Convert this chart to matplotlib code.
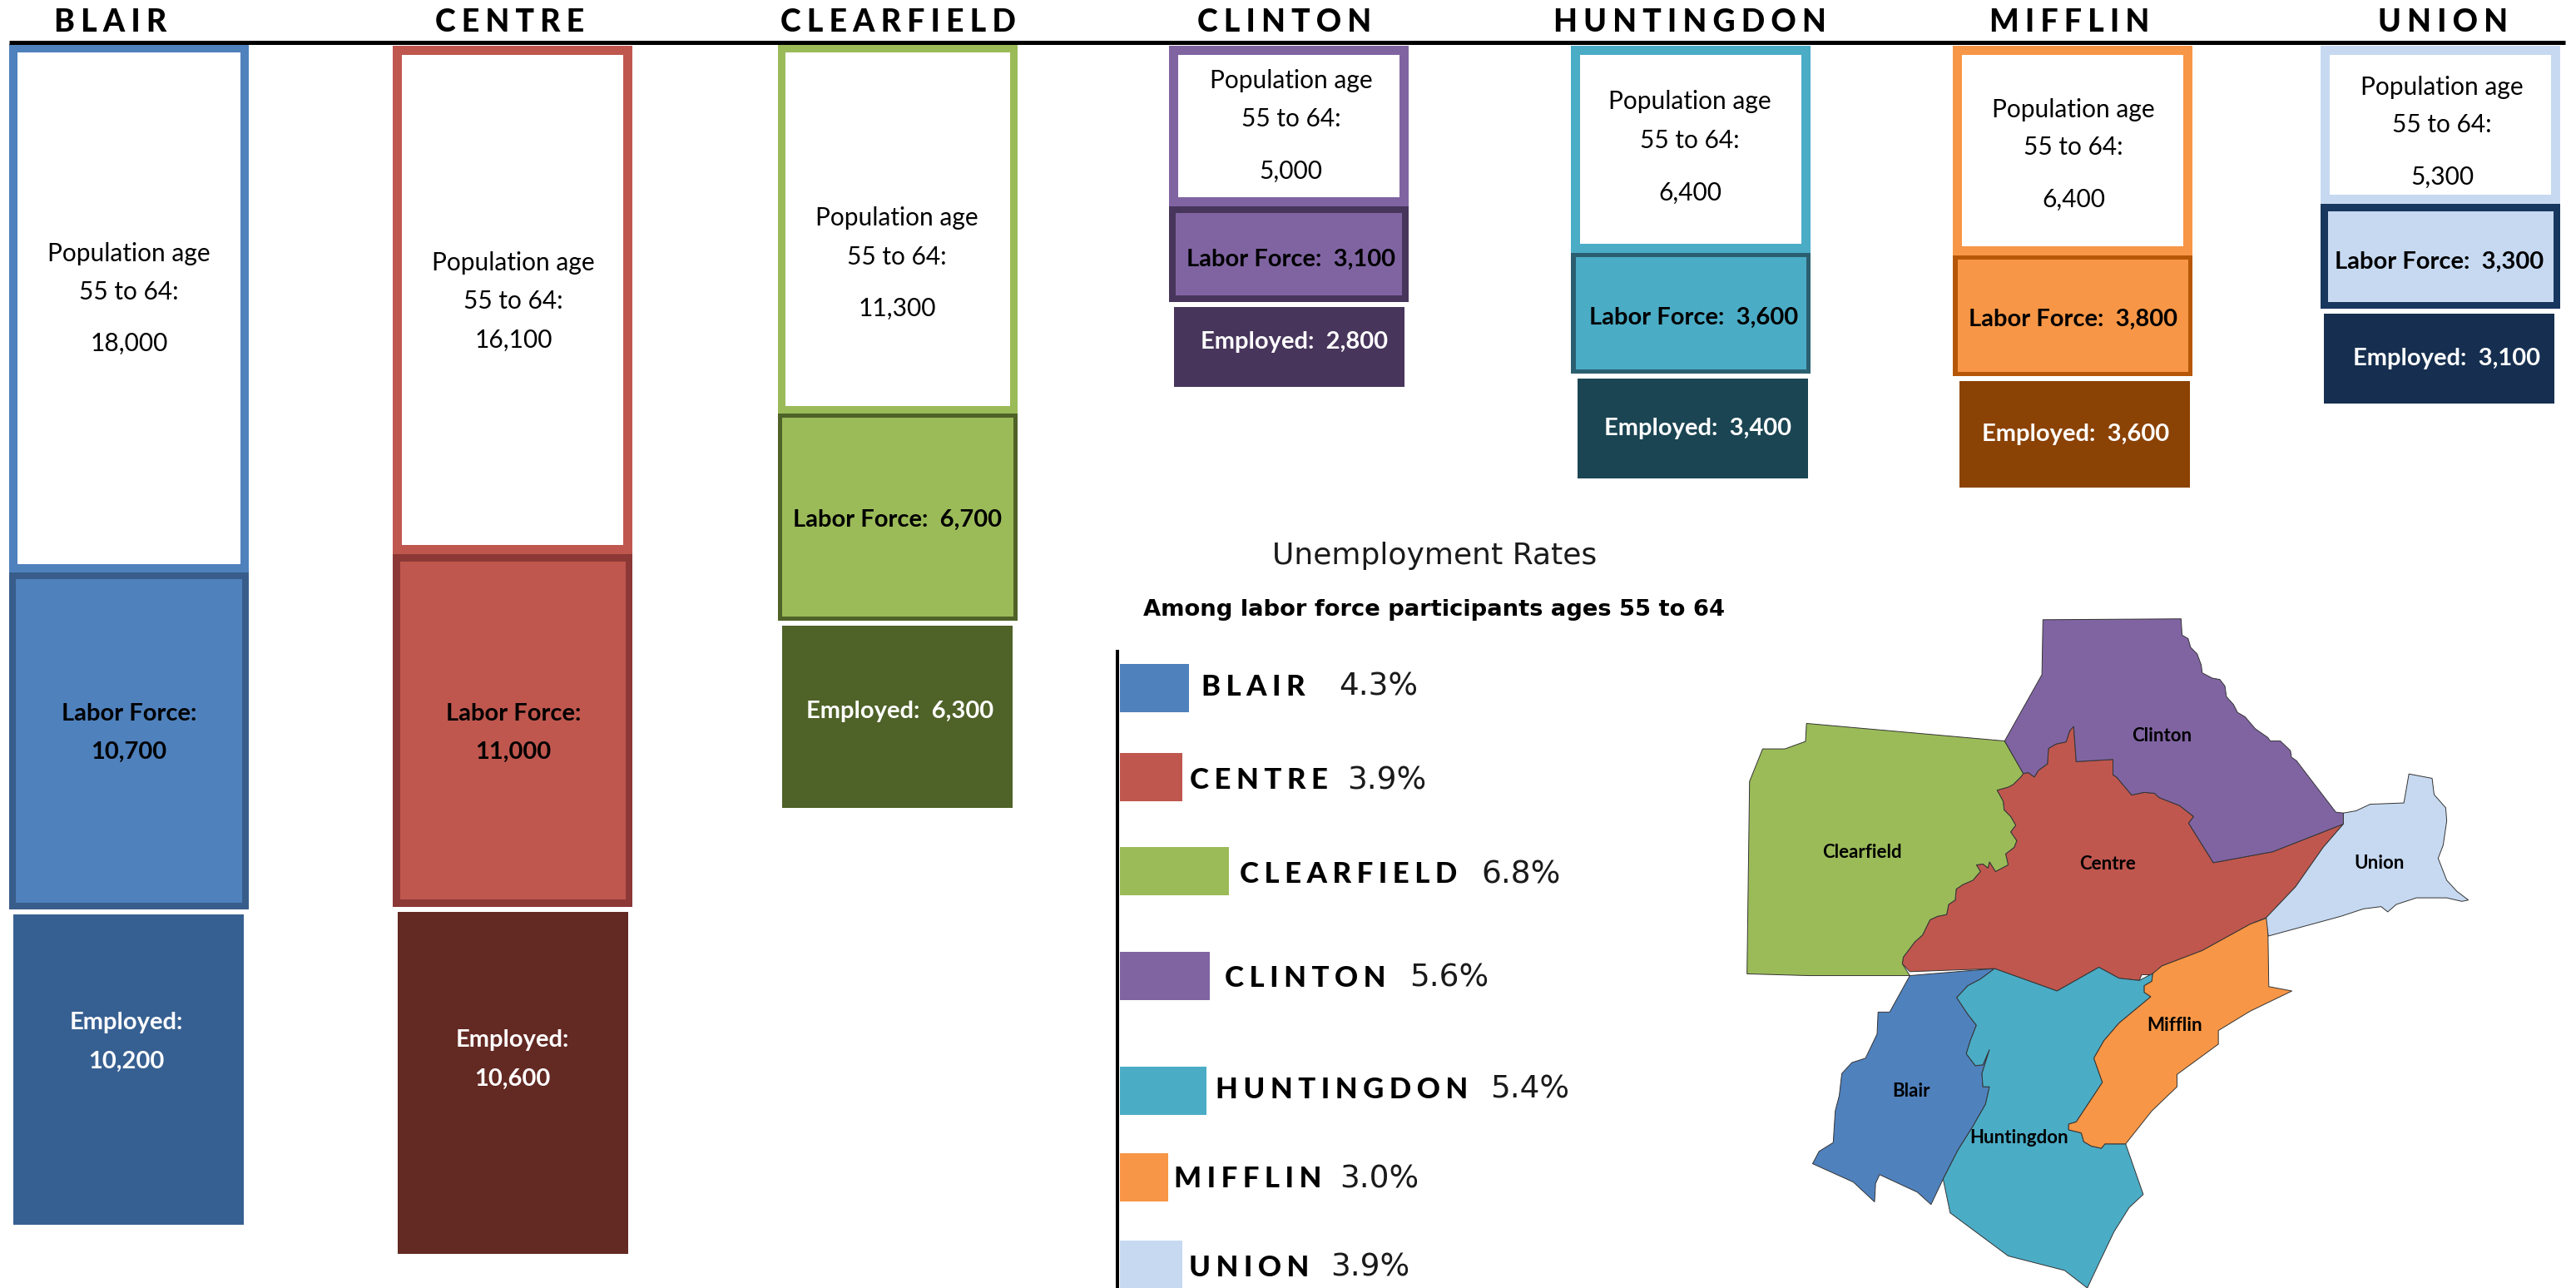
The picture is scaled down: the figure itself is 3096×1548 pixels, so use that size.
import matplotlib
matplotlib.use("Agg")
import matplotlib.pyplot as plt
from matplotlib.patches import Polygon

plt.rcParams['font.family'] = ['Lato', 'DejaVu Sans']

# values
counties = ["Blair", "Centre", "Clearfield", "Clinton", "Huntingdon", "Mifflin", "Union"]
population = [18000, 16100, 11300, 5000, 6400, 6400, 5300]
labor_force = [10700, 11000, 6700, 3100, 3600, 3800, 3300]
employed = [10200, 10600, 6300, 2800, 3400, 3600, 3100]
unemp_rate = [4.3, 3.9, 6.8, 5.6, 5.4, 3.0, 3.9]

# colours
main_colors = ["#4F81BD", "#BF574E", "#9BBB59", "#8064A2", "#4BACC6", "#F79646", "#C6D9F1"]
edge_colors = ["#385D8A", "#8C3836", "#4F6228", "#47355B", "#2B5F70", "#B65708", "#17375E"]
emp_colors = ["#376092", "#632923", "#4F6228", "#47355B", "#1B4553", "#8B4205", "#162F50"]

# layout of the columns, in pixels. the boxes in the original are not all on one scale
col_left = [11, 472, 935, 1405, 1888, 2347, 2789]
col_top = [53, 55, 54, 55, 55, 55, 55]
col_width = 288
emp_left = [16, 477.5, 940, 1411, 1895.5, 2355, 2793]
emp_width = 277
pop_scale = [.03528, .03798, .0392, .0385, .0389, .0393, .03585]
labor_scale = [.0378, .0385, .03716, .03726, .0403, .0383, .0382]
emp_scale = [.03657, .03877, .0348, .0343, .0353, .03544, .0348]
pop_border = [10, 11, 9, 11, 11, 11, 11]
labor_border = [8, 8.5, 5, 8, 5.5, 5.5, 8.5]

title_x = [132.5, 613, 1079, 1544, 2031, 2487, 2936]
pop_text_x = [155, 617, 1078, 1551.5, 2031, 2492, 2935]
pop_text_y = [[305, 351, 413], [316, 362, 409], [262, 309, 371], [97, 143, 206],
              [122.5, 169, 232], [132, 177, 240], [105, 150, 213]]
labor_text_x = [155, 617, 1078.5, 1551.5, 2036, 2491.5, 2932]
labor_text_y = [[858, 904], [858, 904], [625], [312], [382], [384], [315]]
emp_text_x = [152, 616, 1082, 1555.5, 2041, 2495, 2940]
emp_text_y = [[1229, 1275.5], [1250, 1297], [855], [411], [515], [522], [431.5]]

# unemployment bars
rate_y = [827, 934, 1047, 1173, 1311, 1415, 1520]
rate_px = 19.3
rate_name_x = [1444, 1430, 1490, 1472, 1461, 1411, 1429]
rate_pct_x = [1609, 1619, 1780, 1694, 1791, 1610, 1599]
rate_text_y = [826, 938.5, 1051, 1176, 1309.5, 1417, 1524]

# map outlines
clinton_xy = [(669,47),(943,45),(945,82),(957,90),(962,110),(975,125),(983,150),(985,168),(1005,180),(1020,183),
              (1030,198),(1033,222),(1047,240),(1055,258),(1070,268),(1090,295),(1115,315),(1120,323),(1140,323),
              (1160,345),(1162,360),(1172,368),(1250,485),(1265,487),(1265,512),(1125,575),(1007,600),(958,510),
              (968,495),(940,470),(900,452),(890,442),(870,440),(845,446),(815,405),(808,400),(808,365),(735,370),
              (730,290),(722,300),(715,325),(695,330),(680,340),(678,375),(660,390),(652,405),(640,395),(630,397),
              (593,323),(667,172)]
centre_xy = [(630,397),(640,395),(652,405),(660,390),(678,375),(680,340),(695,330),(715,325),(722,300),(730,290),
             (735,370),(808,365),(808,400),(815,405),(845,446),(870,440),(890,442),(900,452),(940,470),(968,495),
             (958,510),(1007,600),(1125,575),(1265,512),(1225,565),(1170,655),(1112,725),(1080,740),(985,800),
             (905,835),(885,855),(865,855),(860,868),(820,863),(780,838),(697,892),(573,841),(405,848),(390,830),
             (392,815),(415,780),(430,765),(445,730),(460,722),(478,718),(482,695),(495,685),(497,660),(510,650),
             (530,640),(545,620),(537,605),(550,603),(560,612),(563,598),(575,620),(600,605),(595,580),(612,565),
             (617,550),(605,530),(615,515),(605,495),(592,480),(590,460),(578,435),(600,428),(610,422),(625,405)]
clearfield_xy = [(200,283),(593,323),(630,397),(625,405),(610,422),(600,428),(578,435),(590,460),(592,480),(605,495),
                 (615,515),(605,530),(617,550),(612,565),(595,580),(600,605),(575,620),(563,598),(560,612),(550,603),
                 (537,605),(545,620),(530,640),(510,650),(497,660),(495,685),(482,695),(478,718),(460,722),(445,730),
                 (430,765),(415,780),(392,815),(390,830),(405,857),(205,857),(82,853),(87,415),(113,341),(157,341),
                 (198,324)]
union_xy = [(1265,487),(1290,482),(1318,467),(1385,464),(1395,398),(1441,408),(1445,445),(1468,475),(1470,505),
            (1463,560),(1453,590),(1470,640),(1490,665),(1513,685),(1500,688),(1470,680),(1410,680),(1370,695),
            (1353,712),(1340,700),(1305,705),(1260,722),(1116,767),(1112,725),(1170,655),(1225,565),(1265,512)]
mifflin_xy = [(1115,725),(1117,882),(1163,892),(1080,938),(1017,982),(1017,1013),(935,1082),(935,1110),(885,1165),
              (833,1240),(792,1240),(785,1250),(765,1245),(750,1235),(745,1215),(720,1208),(720,1195),(735,1190),
              (787,1100),(770,1045),(790,1005),(820,965),(883,905),(870,895),(870,880),(885,870),(887,852),(905,835),
              (985,800),(1080,740)]
huntingdon_xy = [(573,841),(697,892),(780,838),(820,863),(860,868),(887,852),(885,870),(870,880),(870,895),(883,905),
                 (820,965),(790,1005),(770,1045),(787,1100),(735,1190),(720,1195),(720,1208),(745,1215),(750,1235),
                 (765,1245),(785,1250),(792,1240),(833,1240),(868,1355),(840,1385),(810,1440),(785,1500),(757,1568),
                 (712,1528),(600,1495),(485,1397),(471,1320),(500,1255),(530,1200),(555,1150),(563,1110),(550,1110),
                 (548,1080),(563,1025),(550,1060),(535,1062),(517,1035),(525,1005),(537,970),(520,945),(498,907),
                 (520,880),(545,865)]
blair_xy = [(405,857),(573,841),(545,865),(520,880),(498,907),(520,945),(537,970),(525,1005),(517,1035),(535,1062),
            (550,1060),(563,1025),(548,1080),(550,1110),(563,1110),(555,1150),(530,1200),(500,1255),(471,1320),
            (447,1378),(420,1350),(345,1310),(337,1330),(335,1372),(293,1327),(212,1285),(225,1257),(253,1237),
            (257,1165),(265,1130),(270,1080),(290,1055),(317,1045),(340,990),(342,940),(365,940)]
map_shapes = [blair_xy, centre_xy, clearfield_xy, clinton_xy, huntingdon_xy, mifflin_xy, union_xy]
map_label_xy = [(408,1120), (797,604), (311,577), (905,311), (622,1227), (931,970), (1336,601)]


def track(word):
    # the original has wide letter spacing, thin + hair space between the letters
    return "\u2009\u200a".join(word.upper())


fig = plt.figure(figsize=(30.96, 15.48), dpi=100)
ax = fig.add_axes([0, 0, 1, 1])
ax.set_xlim(0, 3096)
ax.set_ylim(1548, 0)
ax.axis("off")

ax.plot([11, 3083], [50.5, 50.5], color="black", lw=3.6, solid_capstyle="butt")

for i, name in enumerate(counties):
    left = col_left[i]
    ax.text(title_x[i], 27, track(name), ha="center", va="center", fontsize=27, fontweight="black", color="black")

    # population box
    top = col_top[i]
    h = population[i] * pop_scale[i]
    b = pop_border[i]
    ax.bar(left, h, col_width, bottom=top, align="edge", color=main_colors[i])
    ax.bar(left + b, h - 2 * b, col_width - 2 * b, bottom=top + b, align="edge", color="white")

    # labor force box
    top = top + h
    h = labor_force[i] * labor_scale[i]
    b = labor_border[i]
    ax.bar(left, h, col_width, bottom=top, align="edge", color=edge_colors[i])
    ax.bar(left + b, h - 2 * b, col_width - 2 * b, bottom=top + b, align="edge", color=main_colors[i])

    # employed box
    top = top + h + 6
    h = employed[i] * emp_scale[i]
    ax.bar(emp_left[i], h, emp_width, bottom=top, align="edge", color=emp_colors[i])

    y1, y2, y3 = pop_text_y[i]
    ax.text(pop_text_x[i], y1, "Population age", ha="center", va="center", fontsize=21.5, color="black")
    ax.text(pop_text_x[i], y2, "55 to 64:", ha="center", va="center", fontsize=21.5, color="black")
    ax.text(pop_text_x[i], y3, f"{population[i]:,}", ha="center", va="center", fontsize=21.5, color="black")

    if len(labor_text_y[i]) == 2:
        ax.text(labor_text_x[i], labor_text_y[i][0], "Labor Force:", ha="center", va="center",
                fontsize=21, fontweight="bold", color="black")
        ax.text(labor_text_x[i], labor_text_y[i][1], f"{labor_force[i]:,}", ha="center", va="center",
                fontsize=21, fontweight="bold", color="black")
        ax.text(emp_text_x[i], emp_text_y[i][0], "Employed:", ha="center", va="center",
                fontsize=21, fontweight="bold", color="white")
        ax.text(emp_text_x[i], emp_text_y[i][1], f"{employed[i]:,}", ha="center", va="center",
                fontsize=21, fontweight="bold", color="white")
    else:
        ax.text(labor_text_x[i], labor_text_y[i][0], f"Labor Force:  {labor_force[i]:,}", ha="center", va="center",
                fontsize=21, fontweight="bold", color="black")
        ax.text(emp_text_x[i], emp_text_y[i][0], f"Employed:  {employed[i]:,}", ha="center", va="center",
                fontsize=21, fontweight="bold", color="white")

# unemployment section
ax.text(1724, 668, "Unemployment Rates", ha="center", va="center", fontsize=26, color="#1a1a1a",
        family=["DejaVu Sans"])
ax.text(1723.5, 733, "Among labor force participants ages 55 to 64", ha="center", va="center",
        fontsize=19.7, fontweight="bold", color="black", family=["DejaVu Sans"])
ax.plot([1343, 1343], [781, 1548], color="black", lw=2.9, solid_capstyle="butt")
ax.barh(rate_y, [r * rate_px for r in unemp_rate], height=58, left=1346, color=main_colors)
for i, name in enumerate(counties):
    ax.text(rate_name_x[i], rate_text_y[i], track(name), ha="left", va="center", fontsize=25,
            fontweight="black", color="black")
    ax.text(rate_pct_x[i], rate_text_y[i], f"{unemp_rate[i]:.1f}%", ha="left", va="center", fontsize=27,
            color="#1a1a1a", family=["DejaVu Sans"])

# map
map_ax = fig.add_axes([2050 / 3096, 0, 950 / 3096, 828 / 1548])
map_ax.set_xlim(0, 1568)
map_ax.set_ylim(1568, 0)
map_ax.axis("off")
for i, shape in enumerate(map_shapes):
    map_ax.add_patch(Polygon(shape, closed=True, facecolor=main_colors[i], edgecolor="#333333", lw=0.7))
for i, name in enumerate(counties):
    map_ax.text(map_label_xy[i][0], map_label_xy[i][1], name, ha="center", va="center", fontsize=16,
                fontweight="bold", color="black")

fig.savefig("out.png", dpi=100, facecolor="white")
